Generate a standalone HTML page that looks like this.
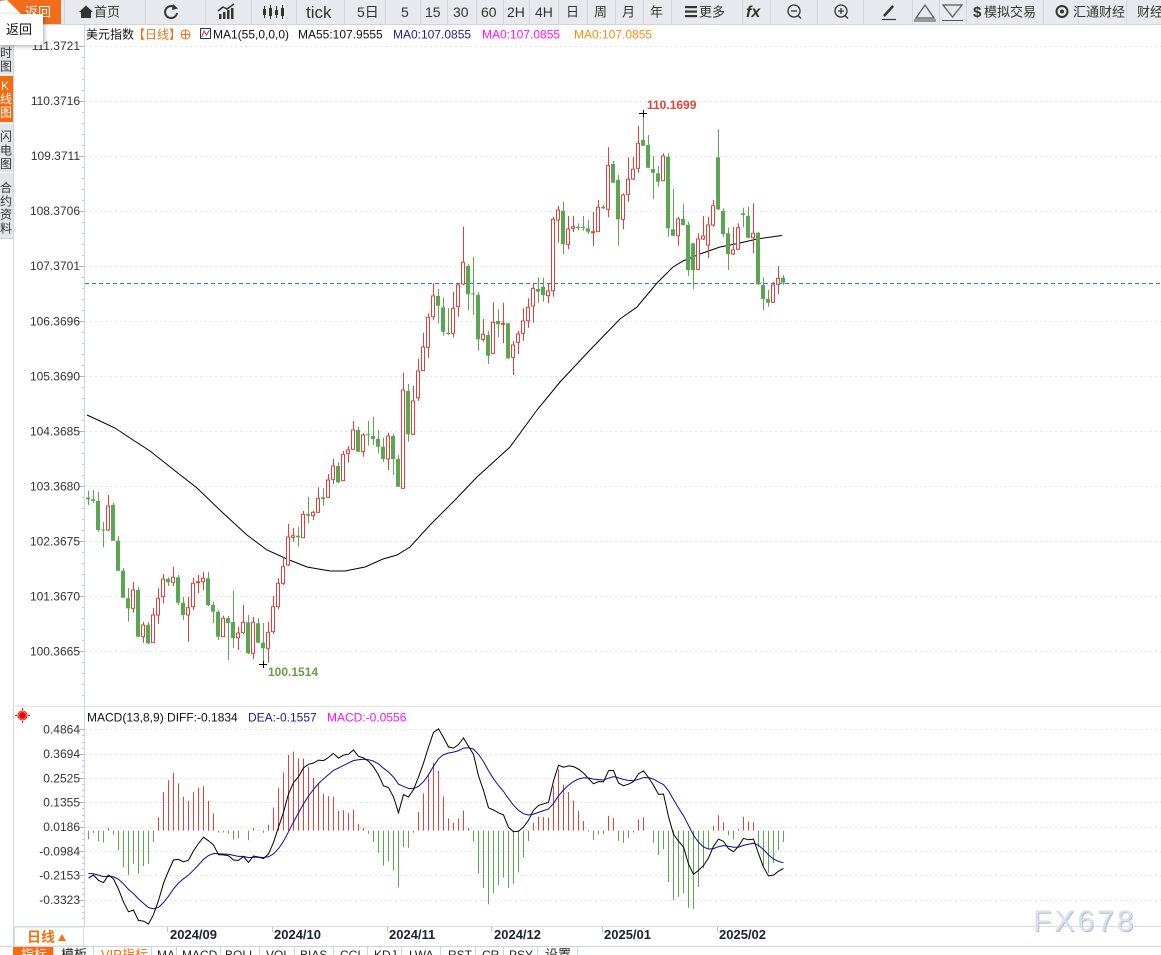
<!DOCTYPE html>
<html><head><meta charset="utf-8">
<style>
html,body{margin:0;padding:0;background:#fff;}
body{width:1161px;height:955px;overflow:hidden;position:relative;}
svg{position:absolute;left:0;top:0;}
</style></head><body>
<svg id="s" width="1161" height="955" viewBox="0 0 1161 955" font-family="'Liberation Sans','Noto Sans CJK SC',sans-serif">
<!-- toolbar -->
<rect x="0" y="0" width="1161" height="24" fill="#e8e9ee"/>
<line x1="0" y1="24.5" x2="1161" y2="24.5" stroke="#d0d4da"/>
<rect x="0" y="0" width="61" height="24" fill="#f36c1c"/>
<text x="25" y="16.5" font-size="13" fill="#fff">返回</text>
<g stroke="#d2d5dc" stroke-width="1">
<line x1="64.5" y1="0" x2="64.5" y2="24"/><line x1="145.5" y1="0" x2="145.5" y2="24"/><line x1="205.5" y1="0" x2="205.5" y2="24"/><line x1="251.5" y1="0" x2="251.5" y2="24"/><line x1="296.5" y1="0" x2="296.5" y2="24"/><line x1="344.5" y1="0" x2="344.5" y2="24"/><line x1="385.5" y1="0" x2="385.5" y2="24"/><line x1="420.5" y1="0" x2="420.5" y2="24"/><line x1="447.5" y1="0" x2="447.5" y2="24"/><line x1="476.5" y1="0" x2="476.5" y2="24"/><line x1="503.5" y1="0" x2="503.5" y2="24"/><line x1="529.5" y1="0" x2="529.5" y2="24"/><line x1="558.5" y1="0" x2="558.5" y2="24"/><line x1="587.5" y1="0" x2="587.5" y2="24"/><line x1="615.5" y1="0" x2="615.5" y2="24"/><line x1="643.5" y1="0" x2="643.5" y2="24"/><line x1="671.5" y1="0" x2="671.5" y2="24"/><line x1="742.5" y1="0" x2="742.5" y2="24"/><line x1="770.5" y1="0" x2="770.5" y2="24"/><line x1="817.5" y1="0" x2="817.5" y2="24"/><line x1="863.5" y1="0" x2="863.5" y2="24"/><line x1="912.5" y1="0" x2="912.5" y2="24"/><line x1="939.5" y1="0" x2="939.5" y2="24"/><line x1="966.5" y1="0" x2="966.5" y2="24"/><line x1="1043.5" y1="0" x2="1043.5" y2="24"/><line x1="1126.5" y1="0" x2="1126.5" y2="24"/>
</g>
<g fill="#333" font-size="13">
<polygon points="79,12 86,5.5 93,12 91,12 91,18 81,18 81,12"/>
<text x="94" y="16.5">首页</text>
<path d="M175.5 8 A6 6 0 1 0 177 13" stroke="#333" stroke-width="2" fill="none"/>
<polygon points="173,4 178,8.5 172,10"/>
<rect x="219" y="14" width="2.5" height="5"/><rect x="223" y="12" width="2.5" height="7"/><rect x="227" y="10" width="2.5" height="9"/><rect x="231" y="8" width="2.5" height="11"/>
<polyline points="218,11 223,7 227,9 234,4" stroke="#333" stroke-width="1.5" fill="none"/>
<g stroke="#333" stroke-width="1"><line x1="264.5" y1="6" x2="264.5" y2="18"/><line x1="270.5" y1="5" x2="270.5" y2="19"/><line x1="276.5" y1="6" x2="276.5" y2="18"/><line x1="282.5" y1="5" x2="282.5" y2="19"/></g>
<rect x="263" y="9" width="3" height="6"/><rect x="269" y="8" width="3" height="8"/><rect x="275" y="10" width="3" height="5"/><rect x="281" y="8" width="3" height="8"/>
<text x="306" y="18" font-size="17">tick</text>
<text x="357" y="17" font-size="14">5日</text>
<text x="401" y="17" font-size="14">5</text>
<text x="425" y="17" font-size="14">15</text>
<text x="453" y="17" font-size="14">30</text>
<text x="481" y="17" font-size="14">60</text>
<text x="507" y="17" font-size="14">2H</text>
<text x="535" y="17" font-size="14">4H</text>
<text x="566" y="16.5">日</text>
<text x="594" y="16.5">周</text>
<text x="622" y="16.5">月</text>
<text x="650" y="16.5">年</text>
<rect x="685" y="6" width="12" height="2.2"/><rect x="685" y="10.5" width="12" height="2.2"/><rect x="685" y="15" width="12" height="2.2"/>
<text x="699" y="16.5">更多</text>
<text x="746" y="17" font-size="16" font-weight="bold" font-style="italic">fx</text>
<g stroke="#333" stroke-width="1.3" fill="none"><circle cx="794" cy="11" r="6"/><line x1="791" y1="11" x2="797" y2="11"/><line x1="798" y1="15.5" x2="801" y2="18.5"/>
<circle cx="841" cy="11" r="6"/><line x1="838" y1="11" x2="844" y2="11"/><line x1="841" y1="8" x2="841" y2="14"/><line x1="845" y1="15.5" x2="848" y2="18.5"/></g>
<line x1="884" y1="16" x2="893" y2="6" stroke="#333" stroke-width="2.5"/>
<line x1="882" y1="19.5" x2="896" y2="19.5" stroke="#333" stroke-width="1.2"/>
<polygon points="916,18 925,5 934,18" stroke="#555" fill="none" stroke-width="1.2"/>
<rect x="914" y="19" width="22" height="3" fill="#999"/>
<polygon points="943,5 962,5 952.5,17" stroke="#555" fill="none" stroke-width="1.2"/>
<line x1="942" y1="20.5" x2="963" y2="20.5" stroke="#555"/>
<text x="973" y="17" font-size="15" font-weight="bold">$</text>
<text x="984" y="16.5">模拟交易</text>
<circle cx="1062" cy="11.5" r="5.5" stroke="#333" stroke-width="2" fill="none"/><circle cx="1062" cy="11.5" r="2" fill="#333"/>
<text x="1073" y="16.5">汇通财经</text>
<text x="1137" y="16.5">财经</text>
</g>
<!-- sidebar -->
<rect x="0" y="25" width="13" height="213" fill="#e3e5ea"/>
<rect x="0" y="76" width="13" height="46" fill="#f76a10"/>
<g stroke="#fff"><line x1="0" y1="74.5" x2="13" y2="74.5"/><line x1="0" y1="123.5" x2="13" y2="123.5"/><line x1="0" y1="172.5" x2="13" y2="172.5"/></g>
<line x1="0" y1="238.5" x2="13" y2="238.5" stroke="#cfd4dc"/>
<line x1="13.5" y1="25" x2="13.5" y2="946" stroke="#cfd4dc"/>
<g font-size="12" fill="#333">
<text x="0" y="43">分</text><text x="0" y="57">时</text><text x="0" y="70.5">图</text>
<text x="1" y="90" fill="#fff">K</text><text x="0" y="103" fill="#fff">线</text><text x="0" y="116.5" fill="#fff">图</text>
<text x="0" y="140.5">闪</text><text x="0" y="154.5">电</text><text x="0" y="168">图</text>
<text x="0" y="192">合</text><text x="0" y="205.5">约</text><text x="0" y="218.5">资</text><text x="0" y="232.5">料</text>
</g>
<!-- axes -->
<line x1="84.5" y1="25" x2="84.5" y2="926" stroke="#cdd6e0"/>
<line x1="13" y1="706.5" x2="1161" y2="706.5" stroke="#dfe4ea"/>
<g id="grid"></g>
<line x1="85" y1="283.5" x2="1161" y2="283.5" stroke="#1f78dc" stroke-dasharray="4,3" stroke-width="1"/>
<!-- legend -->
<g font-size="12">
<text x="86" y="38.5" fill="#111">美元指数</text>
<text x="133" y="38.5" fill="#f07010">【日线】</text>
<circle cx="185.5" cy="34.5" r="4.5" stroke="#f07010" fill="none"/><line x1="181" y1="34.5" x2="190" y2="34.5" stroke="#f07010"/><line x1="185.5" y1="30" x2="185.5" y2="39" stroke="#f07010"/>
<rect x="200.5" y="28.5" width="10" height="10" fill="#fff" stroke="#1a3a9a"/><polyline points="201.5,37 204,31 206.5,35 209.5,30" stroke="#e03030" fill="none"/>
<text x="213" y="38.5" fill="#111">MA1(55,0,0,0)</text>
<text x="298" y="38.5" fill="#111">MA55:107.9555</text>
<text x="393" y="38.5" fill="#2020a0">MA0:107.0855</text>
<text x="482" y="38.5" fill="#ff10ff">MA0:107.0855</text>
<text x="574" y="38.5" fill="#ff8a10">MA0:107.0855</text>
</g>
<!-- MA55 -->
<polyline fill="none" stroke="#000" stroke-width="1" points="87,415 100,421 115,428 130,438 150,451 174,470 197,488 223,513 247,535 267,550 287,559 307,567 330,571 345,571 365,567 383,559 397,555 410,547 430,525 455,500 477,477 510,447 537,410 560,382 590,350 620,319 637,307 657,283 673,267 683,261 700,254 720,247 740,243 757,239 782,235.5"/>
<g id="dyn"></g>
<!-- markers -->
<g stroke="#000"><line x1="639" y1="113.5" x2="647" y2="113.5"/><line x1="643.5" y1="110" x2="643.5" y2="117"/>
<line x1="259" y1="664.5" x2="267" y2="664.5"/><line x1="263.5" y1="661" x2="263.5" y2="668"/></g>
<text x="647" y="109" font-size="12" font-weight="bold" fill="#e0413a">110.1699</text>
<text x="268" y="676" font-size="12" font-weight="bold" fill="#6b9c45">100.1514</text>
<!-- MACD header -->
<g stroke="#e00" stroke-width="1"><circle cx="22.5" cy="715.5" r="3" fill="#e00"/><circle cx="22.5" cy="715.5" r="4.5" fill="none"/>
<line x1="22.5" y1="708" x2="22.5" y2="710"/><line x1="22.5" y1="721" x2="22.5" y2="723"/><line x1="15" y1="715.5" x2="17" y2="715.5"/><line x1="28" y1="715.5" x2="30" y2="715.5"/></g>
<g font-size="12">
<text x="87" y="721.5" fill="#111">MACD(13,8,9) DIFF:-0.1834</text>
<text x="248" y="721.5" fill="#1a1a9a">DEA:-0.1557</text>
<text x="327" y="721.5" fill="#ff10ff">MACD:-0.0556</text>
</g>
<!-- date axis -->
<line x1="13" y1="926.5" x2="1161" y2="926.5" stroke="#d5dbe2"/>
<line x1="0" y1="946.5" x2="1161" y2="946.5" stroke="#cfd4db"/>
<rect x="14.5" y="927" width="69" height="19" fill="#fff" stroke="#d5dbe2"/>
<text x="27" y="942" font-size="14" font-weight="bold" fill="#f27010">日线</text>
<polygon points="58,941 62,934 66,941" fill="#f27010"/>
<g stroke="#b9c6d4"><line x1="167.5" y1="927" x2="167.5" y2="932"/><line x1="272.5" y1="927" x2="272.5" y2="932"/><line x1="387.5" y1="927" x2="387.5" y2="932"/><line x1="491.5" y1="927" x2="491.5" y2="932"/><line x1="602.5" y1="927" x2="602.5" y2="932"/><line x1="717.5" y1="927" x2="717.5" y2="932"/></g>
<g font-size="13" font-weight="bold" fill="#1c2230">
<text x="170" y="939">2024/09</text><text x="274" y="939">2024/10</text><text x="389" y="939">2024/11</text><text x="494" y="939">2024/12</text><text x="604" y="939">2025/01</text><text x="719" y="939">2025/02</text>
</g>
<!-- bottom tabs -->
<rect x="13" y="947" width="40" height="10" fill="#f76a10"/>
<g stroke="#cfd4db"><line x1="53.5" y1="947" x2="53.5" y2="955"/><line x1="93.5" y1="947" x2="93.5" y2="955"/><line x1="151.5" y1="947" x2="151.5" y2="955"/><line x1="176.5" y1="947" x2="176.5" y2="955"/><line x1="220.5" y1="947" x2="220.5" y2="955"/><line x1="259.5" y1="947" x2="259.5" y2="955"/><line x1="294.5" y1="947" x2="294.5" y2="955"/><line x1="333.5" y1="947" x2="333.5" y2="955"/><line x1="367.5" y1="947" x2="367.5" y2="955"/><line x1="401.5" y1="947" x2="401.5" y2="955"/><line x1="440.5" y1="947" x2="440.5" y2="955"/><line x1="475.5" y1="947" x2="475.5" y2="955"/><line x1="503.5" y1="947" x2="503.5" y2="955"/><line x1="537.5" y1="947" x2="537.5" y2="955"/><line x1="577.5" y1="947" x2="577.5" y2="955"/></g>
<g font-size="12" fill="#222">
<text x="21" y="959" fill="#fff" font-size="13">指标</text>
<text x="61" y="959" font-size="13">模板</text>
<text x="101" y="959" fill="#f27010" font-size="13">VIP指标</text>
<text x="157" y="959">MA</text><text x="182" y="959">MACD</text><text x="225" y="959">BOLL</text><text x="266" y="959">VOL</text><text x="300" y="959">BIAS</text><text x="340" y="959">CCI</text><text x="374" y="959">KDJ</text><text x="409" y="959">LWA</text><text x="448" y="959">RST</text><text x="482" y="959">CR</text><text x="509" y="959">PSY</text><text x="545" y="959" font-size="13">设置</text>
</g>
<!-- watermark -->
<text x="1034" y="932" font-size="30" letter-spacing="3" fill="#b4bcc6">FX678</text>
<text x="1033" y="931" font-size="30" letter-spacing="3" fill="#d8e2ee">FX678</text>
<!-- popup -->
<polygon points="0,1 7,0 21,14 0,14" fill="#fff"/>
<rect x="0" y="14" width="43" height="31" fill="#fff" style="filter:drop-shadow(1px 1px 2px rgba(0,0,0,0.35))"/>
<text x="6" y="34" font-size="13" fill="#111">返回</text>
</svg>
<script>
const D=[
['g',497.6,499.3,490.7,505],['g',499.3,501,490,503],['g',501,530,492,532],['g',529.5,530.5,521.7,547.3],['r',506,530,495,531],
['g',505,540.7,503,541],['g',540.7,570.7,536,571],['g',570.7,597.7,568,598],['g',598.3,608.3,588,621.7],['r',590,608.3,582,612.7],
['g',590,636.7,586.7,637],['r',625,636.7,621.7,642.7],['g',625,643.3,621.7,644],['r',615,642.7,607.7,643],['r',598.3,615,588.3,624],
['r',579,596.7,574,603.3],['g',579,582.3,577.3,586],['r',577.3,582.3,566.7,586],['g',577.3,602.7,575,605],['g',602.7,615,596.7,620],
['r',607.7,615,596.7,641.7],['r',583.3,606.7,577.7,610],['r',581.7,582.7,575,593],['r',578.3,581.7,571.7,590],['g',578.3,605,571.7,606],
['g',605,611.7,601.7,623.3],['g',611.7,636.7,610,640],['r',618.3,636.7,615.7,637],['g',618,623,616,660],['g',622,638,591,648],
['r',633,637.7,626.7,650],['r',622.3,632.7,605,634],['g',622.3,653.3,615,654],['r',622.3,653.3,616.7,659],['g',623.3,642.7,618.3,643],
['g',642.7,648.3,623,664],['r',632.3,648.3,621.7,662.7],['r',606.7,631.7,596,634],['r',583.3,606.7,578.3,609.3],['r',566.7,583.3,556.7,585],
['r',537,565,524,566],['r',535.7,537.3,527.7,541.7],['g',535.7,537.3,526.7,546.7],['r',514.3,537.7,511,538],['g',514,515.7,496.7,523.3],
['r',512.3,515.7,510.7,520],['r',498.3,512.3,487.3,513],['g',497.3,499,488.3,505.7],['r',480,497.3,474,498],['r',466,479.3,459,484],
['g',466,482.3,462.3,483],['r',454.3,480.7,451,481],['r',450,453.3,446,462.7],['r',430,449.3,421,450],['g',430,451.7,427,452],
['r',435,451.7,433.3,456.7],['g',434.3,435.3,421,445.7],['g',436,439,416.7,445],['g',439,446.7,430,453.3],['g',446.7,459,437.7,462.3],
['r',436,459,432.7,470],['g',436,459,434,475],['g',459,486.7,455,487],['r',390,488.3,372.7,488.7],['g',391,434.3,384,441.7],
['r',401,434.3,386,435],['r',371,397.7,359,401],['r',347,370.7,332.7,371],['r',317.3,347.3,313.3,357.7],['r',296,316.7,283.3,320],
['g',296,305.7,289,323.3],['g',307.3,331.7,297.7,335.7],['g',333,334,308.3,335],['r',308.3,333.3,291.7,337.3],['r',285,306.7,283.3,316.7],
['r',262.3,284,226.7,285],['g',266,294.3,264.3,310],['g',293.5,294.5,256.7,315],['g',295,339.3,291.7,350.7],['r',334.3,339.3,319,341.7],
['g',335,355.7,331,364],['r',322.3,353.3,302.3,354],['g',321,324.3,309.3,337.3],['r',323.3,324.3,302.7,343.3],['g',323.3,358.3,323,359],
['r',345,357.3,341,375],['r',334,342.3,331,354],['r',321,333.3,308.3,340.7],['r',307.3,320.7,298.3,327.7],['r',288.3,306,283.3,322.7],
['g',289,291.7,277.3,302.7],['g',286.7,295,277.7,301.7],['r',291,295.7,282.7,303.3],['r',219.3,290.7,216.7,296.7],['r',210,220,206,242.7],
['g',210.7,244,201.7,254.3],['r',229,244.3,216,249.3],['r',226.7,228.3,216,232],['g',227,228,223.3,230],['g',227,228,216,230.7],
['g',228.3,231.7,220,234],['r',231.7,232.7,211.7,246],['r',207.3,231.7,200,232],['g',206.7,208.3,205,209.3],['r',165.7,209.3,147.3,217.3],
['g',164,182.7,160.7,183],['g',180,219.3,175,245.7],['r',195,219.3,193.3,229.3],['r',179.3,194.3,157.3,201.7],['r',169.3,179,156.7,180],
['r',143.3,168.3,125.7,172.7],['g',140,145.7,113.3,146],['g',145,167.7,135,168],['g',169,172.7,156,199.3],['g',173.3,181.7,166,186.7],
['r',156,180.7,153.3,181],['g',156.7,228.3,153.3,236.7],['g',229.3,235.7,189,236],['r',219,235.7,216.7,245.7],['g',219,225,204.3,225.5],
['g',225,270,221.7,276],['g',243.3,270,243,289],['r',239,269.3,233.3,270],['r',236,239,216,240],['r',225,245,216.7,258.3],
['r',205.7,225,200,226.7],['g',157.3,209.3,129.3,210],['g',211,234,208.3,236.7],['g',233.3,254,227.7,270],['r',250,254,226.7,255],
['r',227.7,249.3,223.3,250],['g',213.3,215,207.7,227.3],['g',216,237.7,206.7,238],['r',233.3,237.7,203.3,253.3],['g',232.7,284.3,231.7,285],
['g',285,299,277.3,310],['g',299,302.7,290,306.7],['r',285,302.3,281.7,303],['r',278.3,284.3,266,294],['g',277.7,282.7,275,285]
];
const RED='#e0403c',GRN='#5ba653';
let g='';
const pl=['111.3721','110.3716','109.3711','108.3706','107.3701','106.3696','105.3690','104.3685','103.3680','102.3675','101.3670','100.3665'];
for(let k=0;k<12;k++){
  const y=45.6+55.07*k, v=pl[k];
  const yy=Math.round(y)+0.5;
  g+=`<line x1="85" y1="${yy}" x2="1161" y2="${yy}" stroke="#e3e3e3" stroke-dasharray="2,3"/>`;
  g+=`<line x1="79" y1="${yy}" x2="84" y2="${yy}" stroke="#9fb6cc"/>`;
  g+=`<text x="80" y="${(y+4.3).toFixed(1)}" font-size="12" fill="#333" text-anchor="end">${v}</text>`;
  for(let m=1;m<5;m++){const ym=Math.round(y+11*m)+0.5; if(ym<700) g+=`<line x1="82" y1="${ym}" x2="84" y2="${ym}" stroke="#b8c8d8"/>`;}
}
const ml=['0.4864','0.3694','0.2525','0.1355','0.0186','-0.0984','-0.2153','-0.3323'];
for(let k=0;k<8;k++){
  const y=729.3+24.35*k, yy=Math.round(y)+0.5;
  g+=`<line x1="85" y1="${yy}" x2="1161" y2="${yy}" stroke="#e3e3e3" stroke-dasharray="2,3"/>`;
  g+=`<line x1="79" y1="${yy}" x2="84" y2="${yy}" stroke="#9fb6cc"/>`;
  g+=`<text x="80" y="${(y+4.3).toFixed(1)}" font-size="12" fill="#333" text-anchor="end">${ml[k]}</text>`;
  for(let m=1;m<4;m++){const ym=Math.round(y+6.1*m)+0.5; if(ym<924) g+=`<line x1="82" y1="${ym}" x2="84" y2="${ym}" stroke="#b8c8d8"/>`;}
}
document.getElementById('grid').innerHTML=g;
let s='';
const P=y=>110.3716-(y-100.7)/55.07;
const closes=D.map(d=>P(d[0]==='r'?d[1]:d[2]));
let c0=closes[0];
let e8=c0+0.26,e13=c0+0.50,dea=-0.20;
const YM=v=>830.6-v*208.9;
let pd=[],pe=[];
D.forEach((d,i)=>{
  const n=Math.round(87.6+5*i), cx=n+0.5;
  const col=d[0]==='r'?RED:GRN;
  s+=`<line x1="${cx}" x2="${cx}" y1="${d[3]}" y2="${d[4]}" stroke="${col}"/>`;
  const h=Math.max(d[2]-d[1],1);
  if(d[0]==='r') s+=`<rect x="${n-1.5}" y="${d[1]}" width="3" height="${h}" fill="#fff" stroke="${col}"/>`;
  else s+=`<rect x="${n-2}" y="${d[1]}" width="4" height="${h}" fill="${col}"/>`;
  const c=closes[i];
  e8+=2/9*(c-e8); e13+=2/14*(c-e13);
  const diff=e8-e13; dea+=0.2*(diff-dea); const m=2*(diff-dea);
  s+=`<line x1="${cx}" x2="${cx}" y1="${YM(0).toFixed(1)}" y2="${YM(m).toFixed(1)}" stroke="${m>=0?'#e0413a':'#5ba64f'}"/>`;
  pd.push(cx+','+YM(diff).toFixed(1)); pe.push(cx+','+YM(dea).toFixed(1));
});
s+=`<polyline fill="none" stroke="#0a0aa0" points="${pe.join(' ')}"/>`;
s+=`<polyline fill="none" stroke="#000" points="${pd.join(' ')}"/>`;
document.getElementById('dyn').innerHTML=s;
</script>
</body></html>
